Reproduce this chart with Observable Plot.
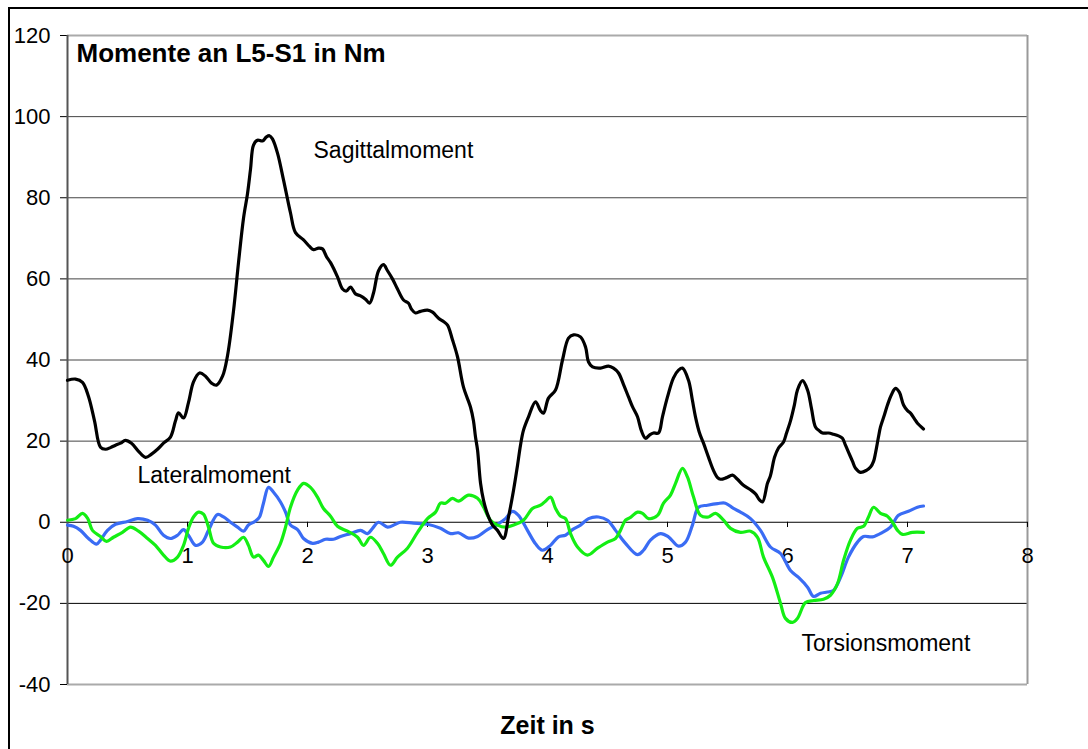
<!DOCTYPE html>
<html>
<head>
<meta charset="utf-8">
<script src="https://cdn.jsdelivr.net/npm/d3@7"></script>
<script src="https://cdn.jsdelivr.net/npm/@observablehq/plot@0.6"></script>
<style>
  html, body { margin: 0; padding: 0; background: #fff; overflow: hidden; }
  #wrap { position: relative; width: 1088px; height: 749px; }
  #chart { position: absolute; left: 0; top: 0; }
  #border { position: absolute; left: 8px; top: 7px; width: 1100px; height: 760px; border: 2px solid #000; pointer-events: none; }
</style>
</head>
<body>
<div id="wrap"><div id="chart"></div><div id="border"></div></div>
<script>
const titleText = "Momente an L5-S1 in Nm";
const xAxisLabel = "Zeit in s";
const xTicks = [0, 1, 2, 3, 4, 5, 6, 7, 8];
const yTicks = [-40, -20, 0, 20, 40, 60, 80, 100, 120];
const gridDark = [20, 40, 60, 80, 100];

// Sagittalmoment [time s, moment Nm]
const sagittal = [
[0.000,35],[0.067,35.3],[0.125,34.5],[0.175,31],[0.225,25],[0.275,18.5],[0.317,18],[0.358,18.4],[0.400,19],[0.442,19.5],
[0.483,20.2],[0.533,19.5],[0.592,17.5],[0.650,16],[0.700,16.8],[0.750,18],[0.800,19.5],[0.858,21],[0.900,25],[0.925,27],
[0.967,25.7],[1.008,29.5],[1.050,34.6],[1.100,36.8],[1.150,36],[1.200,34.3],[1.242,33.8],[1.292,36],[1.333,41],[1.383,52],
[1.425,64],[1.467,75],[1.500,81],[1.525,87],[1.550,93],[1.583,94.2],[1.625,94],[1.658,95],[1.683,95.3],[1.708,94.5],
[1.750,91],[1.800,84.4],[1.858,76.3],[1.900,71.4],[1.967,69.6],[2.017,68],[2.050,67.2],[2.092,67.6],[2.125,67.4],[2.158,65.5],
[2.192,64],[2.250,60.5],[2.292,57.5],[2.325,57],[2.358,58],[2.400,56.3],[2.442,55.8],[2.483,55],[2.517,54],[2.550,56.5],
[2.592,62],[2.633,63.5],[2.667,62],[2.708,60],[2.750,57.5],[2.800,54.8],[2.842,54],[2.867,52.5],[2.900,51.6],[2.942,52],
[3.000,52.3],[3.042,51.8],[3.092,50.3],[3.133,49.5],[3.167,48.6],[3.208,45],[3.250,40.8],[3.300,33.3],[3.358,28.4],[3.383,25],
[3.400,21],[3.417,17.8],[3.442,9.6],[3.467,5.4],[3.500,2],[3.542,-0.7],[3.583,-2],[3.633,-4],[3.675,1.3],[3.717,7.9],
[3.750,14],[3.775,19],[3.800,22.7],[3.842,26],[3.900,29.7],[3.942,27.5],[3.967,26.9],[4.008,30.6],[4.067,32.6],[4.125,40],
[4.175,45.4],[4.217,46.2],[4.275,45.7],[4.317,43.2],[4.342,39.5],[4.375,38.3],[4.442,38],[4.508,38.5],[4.550,38],[4.592,36.8],
[4.633,34],[4.675,30.9],[4.708,28.5],[4.750,26],[4.783,22.5],[4.817,20.7],[4.850,21.5],[4.883,22],[4.925,22],[4.958,26],
[5.000,30.9],[5.050,35.6],[5.092,37.5],[5.125,38],[5.175,35],[5.208,30],[5.233,26],[5.267,22],[5.300,19.5],[5.342,16],
[5.383,12.8],[5.417,11],[5.442,10.6],[5.492,11],[5.542,11.6],[5.583,10.6],[5.633,9.1],[5.692,8],[5.733,7],[5.767,5.5],
[5.792,5],[5.833,9.6],[5.858,11.5],[5.892,16],[5.925,18.3],[5.967,19.8],[5.992,22],[6.025,25],[6.058,29],[6.083,32.6],
[6.125,34.9],[6.167,32.6],[6.200,28],[6.233,23.5],[6.267,22.5],[6.292,22],[6.342,22],[6.383,21.7],[6.425,21.3],[6.458,20.7],
[6.483,19],[6.508,17.3],[6.542,15],[6.567,13.3],[6.608,12.3],[6.658,12.8],[6.692,13.6],[6.717,15],[6.733,17],[6.758,21],
[6.775,23.5],[6.808,26.5],[6.833,28.9],[6.867,31.5],[6.900,33],[6.933,32],[6.967,28.9],[7.000,27.5],[7.025,26.9],[7.058,25.5],
[7.083,24.4],[7.133,23]
];

// Lateralmoment [time s, moment Nm]
const lateral = [
[0.000,-0.7],[0.050,-1],[0.108,-2],[0.175,-4],[0.242,-5.4],[0.275,-4.4],[0.333,-2],[0.400,-0.5],[0.500,0.2],[0.583,0.9],
[0.667,0.5],[0.733,-0.7],[0.800,-3.2],[0.858,-4],[0.917,-3.2],[0.967,-1.8],[1.008,-3.2],[1.067,-5.7],[1.125,-4.9],[1.175,-2],
[1.250,1.9],[1.300,1.3],[1.358,0],[1.417,-1.2],[1.467,-2.2],[1.508,-0.7],[1.567,0.3],[1.600,1.3],[1.633,4.7],[1.675,8.6],
[1.717,7.4],[1.775,5],[1.817,2.5],[1.858,-0.7],[1.917,-1.8],[1.967,-4],[2.042,-5.2],[2.092,-4.9],[2.150,-4.2],[2.217,-4.2],
[2.275,-3.5],[2.358,-2.8],[2.442,-2],[2.500,-2.8],[2.542,-1.5],[2.592,0],[2.667,-1.2],[2.733,-0.5],[2.775,0],[2.883,-0.2],
[3.000,-0.5],[3.108,-1.5],[3.192,-2.8],[3.258,-2.6],[3.342,-3.9],[3.417,-3.5],[3.500,-1.8],[3.583,-0.5],[3.650,0.9],[3.708,2.7],
[3.758,1.7],[3.833,-2],[3.900,-5.3],[3.958,-6.9],[4.025,-5.7],[4.092,-3.6],[4.150,-3.2],[4.208,-1.8],[4.275,-0.7],[4.342,0.9],
[4.425,1.3],[4.500,0.5],[4.567,-2],[4.650,-5.2],[4.750,-8],[4.800,-6.9],[4.858,-4.4],[4.942,-2.8],[5.008,-3.6],[5.092,-5.9],
[5.150,-4.9],[5.208,-0.7],[5.258,3.7],[5.333,4.2],[5.417,4.6],[5.483,4.7],[5.550,3.4],[5.608,2.5],[5.692,0.9],[5.775,-2],
[5.858,-6.1],[5.942,-7.7],[6.025,-11.9],[6.092,-13.6],[6.167,-16],[6.217,-18.3],[6.275,-17.5],[6.333,-17.2],[6.383,-16.8],[6.442,-13.6],
[6.508,-8.6],[6.583,-4.9],[6.633,-3.5],[6.708,-3.6],[6.792,-2.5],[6.858,-1.2],[6.925,1.7],[7.008,2.7],[7.083,3.7],[7.133,4]
];

// Torsionsmoment [time s, moment Nm]
const torsion = [
[0.000,0.5],[0.067,0.9],[0.125,2.2],[0.167,1],[0.208,-2],[0.275,-3.5],[0.325,-4.7],[0.383,-3.7],[0.458,-2.5],[0.525,-1.2],
[0.592,-2.2],[0.667,-4],[0.733,-5.7],[0.800,-8.1],[0.858,-9.6],[0.917,-8.6],[0.967,-5.7],[1.008,-1.5],[1.050,1.3],[1.092,2.5],
[1.133,2],[1.175,-1.2],[1.217,-5.2],[1.275,-6.1],[1.358,-6.1],[1.417,-4.9],[1.467,-3.7],[1.508,-5.7],[1.550,-8.6],[1.592,-8.1],
[1.633,-9.4],[1.675,-10.9],[1.717,-8.6],[1.775,-5.2],[1.817,-1.2],[1.858,3.7],[1.917,7.9],[1.967,9.6],[2.025,8.6],[2.083,6.2],
[2.133,3.4],[2.192,1.5],[2.250,-1],[2.333,-2.2],[2.417,-3.7],[2.467,-5.7],[2.525,-3.7],[2.583,-5.2],[2.633,-7.7],[2.692,-10.6],
[2.750,-8.6],[2.833,-6.4],[2.917,-2.5],[3.000,0.9],[3.067,2.5],[3.108,4.7],[3.150,4.7],[3.208,5.9],[3.258,5.2],[3.342,6.7],
[3.417,5.9],[3.467,3.7],[3.525,0.5],[3.583,-0.7],[3.650,-1.2],[3.717,-0.7],[3.800,0.5],[3.875,3.4],[3.942,4.2],[3.983,5.2],
[4.025,6.2],[4.067,3.4],[4.108,1.5],[4.150,0.9],[4.192,-2.8],[4.250,-6.1],[4.333,-8.1],[4.417,-6.4],[4.500,-4.9],[4.567,-4],
[4.608,-2],[4.650,0.5],[4.692,1.2],[4.750,2.5],[4.792,2.2],[4.842,0.9],[4.917,1.7],[4.967,4.7],[5.025,6.7],[5.067,9.6],
[5.125,13.3],[5.167,11.1],[5.217,6.2],[5.275,1.7],[5.342,1.3],[5.400,2.2],[5.467,0.5],[5.525,-1.5],[5.608,-2.5],[5.692,-2.2],
[5.750,-3.7],[5.800,-8.6],[5.875,-13.6],[5.942,-20],[5.983,-23.7],[6.042,-24.7],[6.083,-23.7],[6.150,-19.8],[6.217,-19.3],[6.300,-19],
[6.358,-18],[6.417,-15.1],[6.467,-9.4],[6.525,-4.4],[6.583,-1.5],[6.633,-1],[6.675,1.3],[6.717,3.7],[6.775,2.2],[6.833,1.5],
[6.875,0],[6.917,-2],[6.958,-3],[7.042,-2.5],[7.133,-2.5]
];

// Series labels [time s, moment Nm, text]
const seriesLabels = [
  [2.05, 89.7, "Sagittalmoment"],
  [0.583, 9.6, "Lateralmoment"],
  [6.117, -31.8, "Torsionsmoment"]
];

const font = "'Liberation Sans', Arial, Helvetica, sans-serif";

const chart = Plot.plot({
  width: 1088,
  height: 749,
  marginLeft: 67,
  marginRight: 61,
  marginTop: 35,
  marginBottom: 65,
  style: { fontFamily: font, fontSize: "22px", background: "transparent", color: "#000" },
  x: { domain: [0, 8], axis: null },
  y: { domain: [-40, 120], axis: null },
  marks: [
    Plot.ruleY(gridDark, { stroke: "#444", strokeWidth: 1 }),
    Plot.ruleY([-20], { stroke: "#000", strokeWidth: 1 }),
    Plot.ruleY([120], { stroke: "#aaa", strokeWidth: 2 }),
    Plot.ruleY([-40], { stroke: "#aaa", strokeWidth: 2 }),
    Plot.ruleX([8], { stroke: "#999", strokeWidth: 2 }),
    Plot.ruleY([0], { stroke: "#000", strokeWidth: 1 }),
    Plot.ruleX(xTicks.filter(d => d > 0), { x: d => d, y1: 0, y2: -1.3, stroke: "#000", strokeWidth: 1 }),
    Plot.axisY(yTicks, { tickSize: 7, tickPadding: 10, fontSize: 22, tickFormat: d => String(d), label: null, stroke: "#000" }),
    Plot.ruleX([0], { stroke: "#555", strokeWidth: 2 }),
    Plot.text(xTicks, { x: d => d, y: 0, text: d => String(d), dy: 34, fontSize: 22, fill: "#000" }),
    Plot.line(lateral, { x: d => d[0], y: d => d[1], stroke: "#3a6cf4", strokeWidth: 3.2, curve: "catmull-rom" }),
    Plot.line(torsion, { x: d => d[0], y: d => d[1], stroke: "#14ee14", strokeWidth: 3.2, curve: "catmull-rom" }),
    Plot.line(sagittal, { x: d => d[0], y: d => d[1], stroke: "#000", strokeWidth: 3.2, curve: "catmull-rom" }),
    Plot.text(seriesLabels, { x: d => d[0], y: d => d[1], text: d => d[2], textAnchor: "start", lineAnchor: "bottom", fontSize: 23, fill: "#000" }),
    Plot.text([titleText], { frameAnchor: "top-left", text: d => d, textAnchor: "start", lineAnchor: "top", dx: 9, dy: 8, fontSize: 26, fontWeight: "bold", fill: "#000" }),
    Plot.text([xAxisLabel], { frameAnchor: "bottom", text: d => d, lineAnchor: "bottom", dy: 49, fontSize: 25, fontWeight: "bold", fill: "#000" })
  ]
});
document.getElementById("chart").appendChild(chart);
</script>
</body>
</html>
